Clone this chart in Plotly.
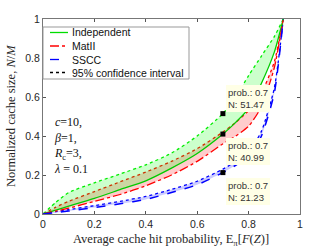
import plotly.graph_objects as go

# ---- data ----
hit_prob = [0, 0.05, 0.1, 0.2, 0.3, 0.4, 0.5, 0.6, 0.7, 0.75, 0.8, 0.85, 0.9, 0.935]
indep_mean = [0, 0.02, 0.04, 0.08, 0.125, 0.17, 0.235, 0.31, 0.4099, 0.47, 0.54, 0.67, 0.83, 1.0]
indep_upper = [0, 0.06, 0.11, 0.16, 0.205, 0.252, 0.312, 0.40, 0.5147, 0.60, 0.71, 0.81, 0.91, 1.0]
matii_mean = [0, 0.015, 0.03, 0.065, 0.1, 0.145, 0.2, 0.27, 0.36, 0.40, 0.45, 0.55, 0.75, 1.0]
matii_upper = [0, 0.035, 0.065, 0.115, 0.165, 0.215, 0.27, 0.335, 0.42, 0.47, 0.53, 0.62, 0.78, 1.0]
sscc_mean = [0, 0.007, 0.015, 0.033, 0.052, 0.075, 0.11, 0.15, 0.2123, 0.25, 0.29, 0.40, 0.62, 1.0]
sscc_upper = [0, 0.012, 0.022, 0.043, 0.065, 0.09, 0.126, 0.168, 0.23, 0.27, 0.315, 0.425, 0.645, 1.0]

tip_x = [0.7, 0.7, 0.7]
tip_y = [0.5147, 0.4099, 0.2123]
tip_text = ["prob.: 0.7<br>N: 51.47", "prob.: 0.7<br>N: 40.99", "prob.: 0.7<br>N: 21.23"]

legend_names = ["Independent", "MatII", "SSCC", "95% confidence interval"]
legend_colors = ["#00dd00", "#ff0000", "#0000ff", "#000000"]
legend_dash = ["solid", "dashdot", "dash", "dot"]

tick_vals = [0, 0.2, 0.4, 0.6, 0.8, 1]
tick_text = ["0", "0.2", "0.4", "0.6", "0.8", "1"]

SANS = "Liberation Sans, Arial, Helvetica, sans-serif"
SERIF = "Liberation Serif, Times New Roman, serif"

fig = go.Figure()

LINE_SHAPE = dict(shape="spline", smoothing=0.6)

def band(lower, upper, fill, color):
    fig.add_trace(go.Scatter(x=hit_prob, y=lower, mode="lines", line=dict(width=0, **LINE_SHAPE),
                             showlegend=False, hoverinfo="skip"))
    fig.add_trace(go.Scatter(x=hit_prob, y=upper, mode="lines", fill="tonexty", fillcolor=fill,
                             line=dict(color=color, width=1.3, dash="dot", **LINE_SHAPE),
                             showlegend=False, hoverinfo="skip"))

band(matii_mean, matii_upper, "rgba(255,0,0,0.2)", "#ff0000")
band(indep_mean, indep_upper, "rgba(0,255,0,0.2)", "#00ee00")
band(sscc_mean, sscc_upper, "rgba(0,0,255,0.2)", "#0000ff")

fig.add_trace(go.Scatter(x=hit_prob, y=indep_mean, mode="lines",
                         line=dict(color="#00cc00", width=1.3, **LINE_SHAPE), showlegend=False))
fig.add_trace(go.Scatter(x=hit_prob, y=matii_mean, mode="lines",
                         line=dict(color="#ff0000", width=1.3, dash="dashdot", **LINE_SHAPE), showlegend=False))
fig.add_trace(go.Scatter(x=hit_prob, y=sscc_mean, mode="lines",
                         line=dict(color="#0000ff", width=1.5, dash="dash", **LINE_SHAPE), showlegend=False))

fig.add_trace(go.Scatter(x=tip_x, y=tip_y, mode="markers",
                         marker=dict(symbol="square", size=5, color="black"), showlegend=False))

# data tip boxes
tip_box_top = [0.6615, 0.39, 0.185]
for ty, txt in zip(tip_box_top, tip_text):
    fig.add_annotation(x=0.712, y=ty, xref="x", yref="y", xanchor="left", yanchor="top",
                       text=txt, showarrow=False, align="left",
                       font=dict(family=SANS, size=9.5, color="#333333"),
                       bgcolor="#ffffe6", borderpad=2, borderwidth=0)

# parameter text
fig.add_annotation(x=0.035, y=0.52, xref="x", yref="y", xanchor="left", yanchor="top",
                   text="<i>c</i>=10,<br><i>β</i>=1,<br><i>R</i><sub>c</sub>=3,<br><i>λ</i> = 0.1",
                   showarrow=False, align="left",
                   font=dict(family=SERIF, size=12, color="#111111"))

# manual legend
def px_x(p):
    return (p - 43) / 257.0

def px_y(p):
    return (214 - p) / 195.0

fig.add_shape(type="rect", xref="paper", yref="paper", x0=px_x(43), x1=px_x(189), y0=px_y(79), y1=px_y(27),
              line=dict(color="#999999", width=1), fillcolor="white", layer="above")
leg_y = [32.5, 46, 59.5, 72.5]
for name, col, dsh, yy in zip(legend_names, legend_colors, legend_dash, leg_y):
    fig.add_shape(type="line", xref="paper", yref="paper", x0=px_x(50), x1=px_x(68), y0=px_y(yy), y1=px_y(yy),
                  line=dict(color=col, width=1.3, dash=dsh), layer="above")
    fig.add_annotation(x=px_x(70), y=px_y(yy), xref="paper", yref="paper", xanchor="left", yanchor="middle",
                       text=name, showarrow=False,
                       font=dict(family=SANS, size=10.5, color="#111111"))

# axis titles
fig.add_annotation(x=px_x(171), y=px_y(240), xref="paper", yref="paper", xanchor="center", yanchor="middle",
                   text="Average cache hit probability, E<sub>π</sub>[<i>F</i>(<i>Z</i>)]", showarrow=False,
                   font=dict(family=SERIF, size=12.5, color="#262626"))
fig.add_annotation(x=px_x(11), y=px_y(116), xref="paper", yref="paper", xanchor="center", yanchor="middle",
                   text="Normalized cache size, <i>N</i>/<i>M</i>", showarrow=False, textangle=-90,
                   font=dict(family=SERIF, size=12.5, color="#262626"))

axis_common = dict(range=[0, 1], tickvals=tick_vals, ticktext=tick_text, ticks="inside", ticklen=3,
                   tickcolor="#555555", showline=True, linecolor="#777777", linewidth=1, mirror="ticks",
                   showgrid=False, zeroline=False, automargin=False,
                   tickfont=dict(family=SANS, size=10.5, color="#262626"))

fig.update_xaxes(**axis_common)
fig.update_yaxes(**axis_common)

fig.update_layout(width=332, height=249, margin=dict(l=43, r=32, t=19, b=35),
                  paper_bgcolor="white", plot_bgcolor="white", showlegend=False)

fig.write_html("out.html", config={"displayModeBar": False},
               post_script="document.body.style.margin='0';document.body.style.padding='0';")
